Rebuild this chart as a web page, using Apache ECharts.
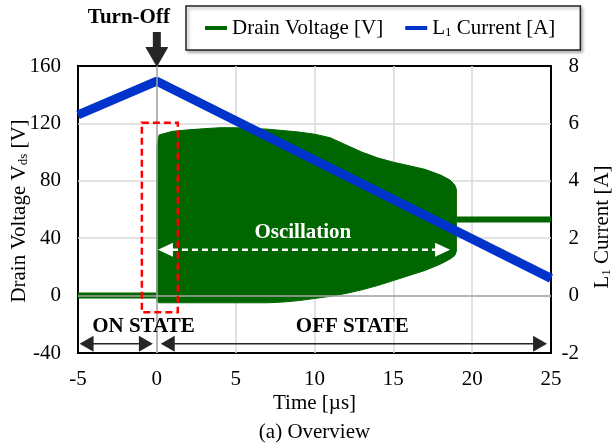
<!DOCTYPE html>
<html><head><meta charset="utf-8">
<script src="https://cdn.jsdelivr.net/npm/echarts@6/dist/echarts.min.js"></script>
<style>html,body{margin:0;padding:0;background:#fff}#c{width:616px;height:447px}</style>
</head><body><div id="c"></div>
<script>
// ---- axes ----
const xMin = -5, xMax = 25, xStep = 5;
const vMin = -40, vMax = 160, vStep = 40;
const aMin = -2, aMax = 8, aStep = 2;

// ---- drain voltage (V) ----
const onStateT = [-5, 0];
const onStateV = [0, 0];
const offStateT = [19.0, 25];
const offStateV = [53, 53];
// oscillation envelope
const oscT     = [0,   0.15, 1,     2,     3,     4,   5,   6,     7,   8,   9,   10,    11,  12,  13,  14, 15, 16,   17,   18, 18.6, 18.9, 19.0];
const oscUpper = [104, 112,  114.5, 115.5, 116.3, 117, 117, 116.5, 116, 115, 114, 112.5, 110, 105, 100, 96, 93, 90.5, 88,   84, 80.5, 77,   74];
const oscLower = [-4,  -5,   -5,    -5,    -5,    -5,  -5,  -5,    -5,  -4.5,-3.5,-2,    -0.5,1.5, 4,   7,  10.5,14,  17.5, 22, 25.5, 28,   31];

// ---- L1 current (A) ----
const currentT = [-5, 0, 25];
const currentA = [6.3, 7.47, 0.6];

const FONT = '"Liberation Serif","Times New Roman",serif';
const GREEN = '#006600';
const BLUE = '#0033cc';
const DARK = '#262626';

const richStyles = {
  n: {fontSize: 21, fontFamily: FONT, color: '#000', lineHeight: 24},
  s: {fontSize: 13, fontFamily: FONT, color: '#000', padding: [10, 0, 0, 0]}
};

const chart = echarts.init(document.getElementById('c'));
const zip = (a, b) => a.map((t, i) => [t, b[i]]);

const axisLabel = {fontSize: 21, fontFamily: FONT, color: '#000'};
const split = {show: true, showMinLine: false, showMaxLine: false, lineStyle: {color: '#d9d9d9', width: 1.5}};

chart.setOption({
  animation: false,
  backgroundColor: '#fff',
  textStyle: {fontFamily: FONT},
  grid: {left: 78, right: 65, top: 66, bottom: 94, show: true, borderColor: '#000', borderWidth: 2, backgroundColor: 'transparent'},
  legend: {
    left: 186, top: 6,
    padding: [10, 25, 10, 19],
    itemGap: 22, itemWidth: 22, itemHeight: 4, icon: 'rect',
    borderColor: '#222', borderWidth: 1.5, backgroundColor: '#fff',
    shadowColor: 'rgba(0,0,0,0.3)', shadowBlur: 3, shadowOffsetX: 2, shadowOffsetY: 2,
    data: ['Drain Voltage [V]', 'L1 Current [A]'],
    textStyle: {fontSize: 21, fontFamily: FONT, color: '#000', lineHeight: 24, rich: richStyles},
    formatter: name => name === 'L1 Current [A]' ? '{n|L}{s|1}{n| Current [A]}' : '{n|' + name + '}'
  },
  xAxis: {
    type: 'value', min: xMin, max: xMax, interval: xStep,
    axisLine: {show: false}, axisTick: {show: false},
    axisLabel: Object.assign({margin: 16}, axisLabel),
    splitLine: split
  },
  yAxis: [
    {type: 'value', min: vMin, max: vMax, interval: vStep, position: 'left',
     axisLine: {show: false}, axisTick: {show: false},
     axisLabel: Object.assign({margin: 17}, axisLabel), splitLine: split},
    {type: 'value', min: aMin, max: aMax, interval: aStep, position: 'right',
     axisLine: {show: false}, axisTick: {show: false},
     axisLabel: Object.assign({margin: 28, align: 'right'}, axisLabel), splitLine: {show: false}}
  ],
  series: [
    {type: 'line', data: [], z: 1, silent: true,
     markLine: {silent: true, symbol: 'none', animation: false, label: {show: false},
       lineStyle: {color: '#a6a6a6', width: 1.5, type: 'solid'},
       data: [{xAxis: 0}, {yAxis: 0}]}},
    {type: 'custom', name: 'Drain Voltage [V]', z: 2, silent: true,
     data: oscT.map((t, i) => [t, oscUpper[i], oscLower[i]]),
     encode: {x: 0, y: [1, 2]},
     itemStyle: {color: GREEN},
     renderItem: function (params, api) {
       if (params.dataIndex !== 0) return null;
       const pts = [];
       for (let i = 0; i < oscT.length; i++) pts.push(api.coord([oscT[i], oscUpper[i]]));
       for (let i = oscT.length - 1; i >= 0; i--) pts.push(api.coord([oscT[i], oscLower[i]]));
       return {type: 'polygon', shape: {points: pts}, style: {fill: GREEN, stroke: GREEN, lineWidth: 1}};
     }},
    {type: 'line', name: 'Drain Voltage [V]', z: 3, data: zip(onStateT, onStateV), showSymbol: false,
     lineStyle: {color: GREEN, width: 6}, itemStyle: {color: GREEN}},
    {type: 'line', name: 'Drain Voltage [V]', z: 3, data: zip(offStateT, offStateV), showSymbol: false,
     lineStyle: {color: GREEN, width: 6}, itemStyle: {color: GREEN}},
    {type: 'line', name: 'L1 Current [A]', yAxisIndex: 1, z: 4, data: zip(currentT, currentA), showSymbol: false,
     lineStyle: {color: BLUE, width: 9}, itemStyle: {color: BLUE}}
  ]
});

// ---- annotations positioned through the axes ----
const px = (t, v) => chart.convertToPixel({gridIndex: 0}, [t, v]);
function tri(tipX, tipY, dir, len, hw, color) {
  let pts;
  if (dir === 'left') pts = [[tipX, tipY], [tipX + len, tipY - hw], [tipX + len, tipY + hw]];
  else if (dir === 'right') pts = [[tipX, tipY], [tipX - len, tipY - hw], [tipX - len, tipY + hw]];
  else pts = [[tipX, tipY], [tipX - hw, tipY - len], [tipX + hw, tipY - len]];
  return {type: 'polygon', shape: {points: pts}, style: {fill: color}, z: 50};
}
function dblArrow(t1, t2, v, color, width, dash, len, hw) {
  const a = px(t1, v), b = px(t2, v);
  return [
    {type: 'line', shape: {x1: a[0] + len - 1, y1: a[1], x2: b[0] - len + 1, y2: b[1]},
     style: {stroke: color, lineWidth: width, lineDash: dash}, z: 50},
    tri(a[0], a[1], 'left', len, hw, color),
    tri(b[0], b[1], 'right', len, hw, color)
  ];
}
function txt(x, y, text, opts) {
  return Object.assign({type: 'text', x: x, y: y, z: 60,
    style: Object.assign({text: text, fontFamily: FONT, fontSize: 21, fill: '#000', align: 'center', verticalAlign: 'middle'}, opts || {})});
}

const g = [];
const r1 = px(-0.95, 120.5), r2 = px(1.33, -11.6);
g.push({type: 'rect', z: 55, shape: {x: r1[0], y: r1[1], width: r2[0] - r1[0], height: r2[1] - r1[1]},
  style: {fill: 'none', stroke: '#ff0000', lineWidth: 2.5, lineDash: [7, 4]}});
g.push(...dblArrow(0.07, 18.6, 32, '#fff', 2.5, [6, 4], 15, 7));
const oc = px(9.26, 43.7);
g.push(txt(oc[0], oc[1], 'Oscillation', {fill: '#fff', fontWeight: 'bold'}));
g.push(...dblArrow(-4.9, -0.25, -33.5, DARK, 1.5, null, 14, 8));
g.push(...dblArrow(0.25, 24.75, -33.5, DARK, 1.5, null, 14, 8));
const on = px(-0.85, -21.5), off = px(12.4, -21.5);
g.push(txt(on[0], on[1], 'ON STATE', {fontWeight: 'bold'}));
g.push(txt(off[0], off[1], 'OFF STATE', {fontWeight: 'bold'}));
const tip = px(0, 160);
const tx = tip[0], ty = tip[1] + 1;
g.push({type: 'polygon', z: 60, shape: {points: [
  [tx - 4, ty - 35], [tx + 4, ty - 35], [tx + 4, ty - 20], [tx + 11.5, ty - 20],
  [tx, ty], [tx - 11.5, ty - 20], [tx - 4, ty - 20]]}, style: {fill: DARK}});
g.push(txt(tx - 28, 18, 'Turn-Off', {fontWeight: 'bold'}));
const mid = px(10, 60);
g.push(Object.assign(txt(19, 211, '{n|Drain Voltage V}{s|ds}{n| [V]}', {rich: richStyles}), {rotation: Math.PI / 2}));
g.push(Object.assign(txt(602, 227, '{n|L}{s|1}{n| Current [A]}', {rich: richStyles}), {rotation: Math.PI / 2}));
g.push(txt(mid[0], 403, 'Time [µs]'));
g.push(txt(mid[0], 432, '(a) Overview'));

chart.setOption({graphic: {elements: g}});
</script>
</body></html>
